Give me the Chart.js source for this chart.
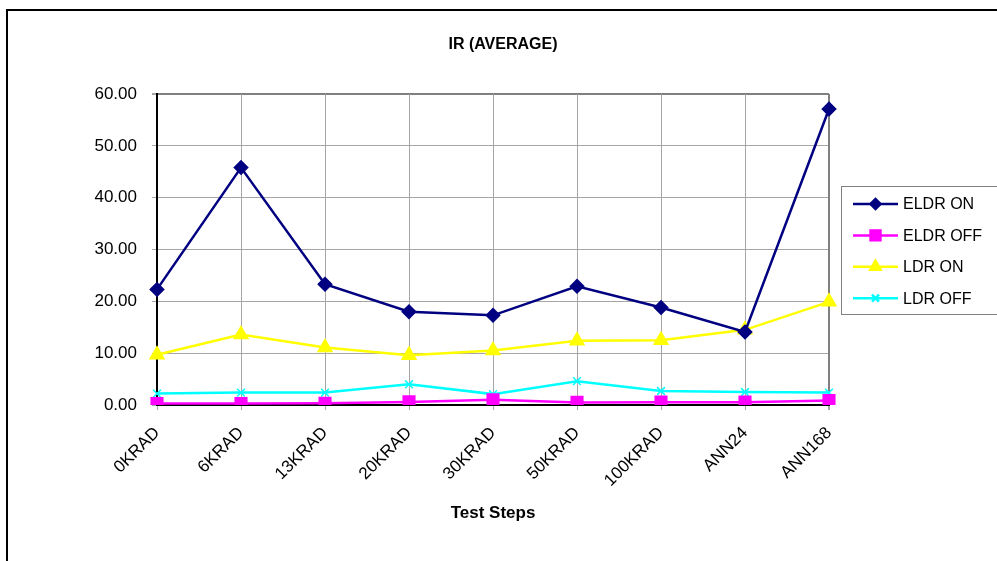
<!DOCTYPE html>
<html>
<head>
<meta charset="utf-8">
<title>IR (AVERAGE)</title>
<script src="https://cdn.jsdelivr.net/npm/chart.js@4"></script>
<style>
  html, body { margin: 0; padding: 0; background: #fff; }
  #wrap { position: relative; width: 997px; height: 561px; overflow: hidden; }
  #frame {
    position: absolute; left: 6px; top: 9px; width: 1100px; height: 700px;
    border-left: 2px solid #000; border-top: 2px solid #000;
  }
  #irChart { position: absolute; left: 0; top: 0; }
</style>
</head>
<body>
<div id="wrap">
  <div id="frame"></div>
  <canvas id="irChart" width="997" height="561"></canvas>
</div>
<script>
// data
const steps = ["0KRAD", "6KRAD", "13KRAD", "20KRAD", "30KRAD", "50KRAD", "100KRAD", "ANN24", "ANN168"];
const eldrOn = [22.3, 45.8, 23.3, 18.0, 17.3, 22.9, 18.8, 14.1, 57.1];
const eldrOff = [0.3, 0.3, 0.35, 0.6, 1.0, 0.5, 0.55, 0.55, 0.85];
const ldrOn = [9.7, 13.6, 11.1, 9.6, 10.5, 12.4, 12.5, 14.5, 19.9];
const ldrOff = [2.2, 2.4, 2.4, 4.0, 2.1, 4.6, 2.7, 2.5, 2.4];
const yTicks = [0, 10, 20, 30, 40, 50, 60];

const FONT = "'Liberation Sans', Arial, sans-serif";
Chart.defaults.font.family = FONT;
Chart.defaults.color = "#000";

// title + Excel style legend box (the chart title is centred on the whole sheet, not the plot)
const excelDecor = {
  id: "excelDecor",
  afterDraw(chart) {
    const ctx = chart.ctx;
    ctx.save();
    ctx.fillStyle = "#000";
    ctx.font = "bold 16px " + FONT;
    ctx.textAlign = "center";
    ctx.textBaseline = "middle";
    ctx.fillText("IR (AVERAGE)", 503, 45);

    ctx.strokeStyle = "#808080";
    ctx.lineWidth = 1;
    ctx.strokeRect(841.5, 186.5, 160, 128);
    chart.data.datasets.forEach(function (ds, i) {
      const y = 204 + i * 31.4;
      ctx.strokeStyle = ds.borderColor;
      ctx.fillStyle = ds.borderColor;
      ctx.lineWidth = 2.5;
      ctx.beginPath();
      ctx.moveTo(853, y);
      ctx.lineTo(898, y);
      ctx.stroke();
      Chart.helpers.drawPoint(ctx, {
        pointStyle: ds.pointStyle,
        radius: ds.legendRadius,
        borderWidth: ds.pointBorderWidth || 1,
        rotation: 0,
      }, 875.5, y);
      ctx.fillStyle = "#000";
      ctx.font = "16px " + FONT;
      ctx.textBaseline = "middle";
      ctx.textAlign = "left";
      ctx.fillText(ds.label, 903, y + 1);
    });
    ctx.restore();
  },
};

const irEl = document.getElementById("irChart");
if (irEl) {
  const irCtx = irEl.getContext("2d");
  new Chart(irCtx, {
    type: "line",
    data: {
      labels: steps,
      datasets: [
        {
          label: "ELDR ON",
          data: eldrOn,
          borderColor: "#000080",
          backgroundColor: "#000080",
          pointStyle: "rectRot",
          pointRadius: 6,
          legendRadius: 5,
          borderWidth: 2.5,
        },
        {
          label: "ELDR OFF",
          data: eldrOff,
          borderColor: "#ff00ff",
          backgroundColor: "#ff00ff",
          pointStyle: "rect",
          pointRadius: 7.5,
          legendRadius: 7,
          borderWidth: 2.5,
        },
        {
          label: "LDR ON",
          data: ldrOn,
          borderColor: "#ffff00",
          backgroundColor: "#ffff00",
          pointStyle: "triangle",
          pointRadius: 7,
          legendRadius: 6,
          borderWidth: 2.5,
        },
        {
          label: "LDR OFF",
          data: ldrOff,
          borderColor: "#00ffff",
          backgroundColor: "#00ffff",
          pointStyle: "crossRot",
          pointRadius: 5.5,
          legendRadius: 5,
          pointBorderWidth: 1.5,
          borderWidth: 2.5,
        },
      ],
    },
    options: {
      responsive: false,
      animation: false,
      layout: { padding: { left: 10, right: 168, top: 94, bottom: 0 } },
      elements: { line: { tension: 0 } },
      plugins: {
        legend: { display: false },
        tooltip: { enabled: false },
        title: { display: false },
      },
      scales: {
        y: {
          min: yTicks[0],
          max: yTicks[yTicks.length - 1],
          afterBuildTicks: function (scale) {
            scale.ticks = yTicks.map(function (v) { return { value: v }; });
          },
          afterFit: function (scale) { scale.width = 147; },
          ticks: {
            font: { size: 17 },
            color: "#000",
            padding: 15,
            callback: function (v) { return Number(v).toFixed(2); },
          },
          grid: {
            color: function (c) { return c.tick && c.tick.value === 60 ? "#808080" : "#a6a6a6"; },
            lineWidth: function (c) { return c.tick && c.tick.value === 60 ? 2 : 1; },
            tickLength: 5,
            tickColor: "#a6a6a6",
          },
          border: { color: "#000", width: 2 },
        },
        x: {
          offset: false,
          afterFit: function (scale) { scale.height = 156; },
          ticks: {
            autoSkip: false,
            minRotation: 45,
            maxRotation: 45,
            font: { size: 17 },
            color: "#000",
            padding: 13,
          },
          grid: {
            color: function (c) { return c.index === steps.length - 1 ? "#808080" : "#a6a6a6"; },
            lineWidth: function (c) { return c.index === steps.length - 1 ? 2 : 1; },
            tickLength: 5,
            tickColor: "#a6a6a6",
          },
          border: { color: "#000", width: 2 },
          title: {
            display: true,
            text: "Test Steps",
            font: { size: 17, weight: "bold" },
            color: "#000",
            padding: { top: 0, bottom: 37.5 },
          },
        },
      },
    },
    plugins: [excelDecor],
  });
}
</script>
</body>
</html>
